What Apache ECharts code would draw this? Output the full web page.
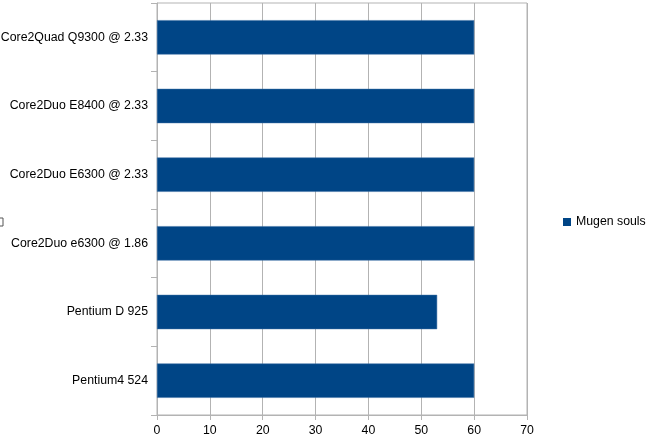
<!DOCTYPE html>
<html>
<head>
<meta charset="utf-8">
<script src="https://cdn.jsdelivr.net/npm/echarts@6/dist/echarts.min.js"></script>
<style>html,body{margin:0;padding:0;background:#fff}#c{width:648px;height:444px}</style>
</head>
<body>
<div id="c"></div>
<script>
const categories = ["Core2Quad Q9300 @ 2.33","Core2Duo E8400 @ 2.33","Core2Duo E6300 @ 2.33","Core2Duo e6300 @ 1.86","Pentium D 925","Pentium4 524"];
const seriesName = "Mugen souls";
const values = [60,60,60,60,53,60];
const xTicks = {min:0, max:70, interval:10};

const FS = 12.3;
const chart = echarts.init(document.getElementById('c'), null, {renderer:'canvas'});
chart.setOption({
  animation:false,
  textStyle:{fontFamily:'Liberation Sans, Arial, sans-serif'},
  grid:{left:157,right:121,top:3,bottom:29,show:true,borderColor:'#b3b3b3',borderWidth:1,containLabel:false,outerBoundsMode:'none'},
  legend:{
    show:true,left:563,top:216,padding:0,orient:'vertical',icon:'rect',itemWidth:8,itemHeight:8,itemGap:4,
    itemStyle:{borderWidth:0},
    textStyle:{fontSize:FS,color:'#000',fontFamily:'Liberation Sans, Arial, sans-serif',overflow:'none'},
    data:[seriesName]
  },
  xAxis:{
    type:'value',min:xTicks.min,max:xTicks.max,interval:xTicks.interval,
    axisLine:{show:true,lineStyle:{color:'#b3b3b3'}},
    axisTick:{show:true,length:5,lineStyle:{color:'#b3b3b3'}},
    splitLine:{show:true,lineStyle:{color:'#b3b3b3'}},
    axisLabel:{fontSize:FS,color:'#000',margin:10}
  },
  yAxis:{
    type:'category',data:categories,inverse:true,
    axisLine:{show:true,onZero:false,lineStyle:{color:'#b3b3b3'}},
    axisTick:{show:true,length:6,alignWithLabel:false,lineStyle:{color:'#b3b3b3'}},
    splitLine:{show:false},
    axisLabel:{fontSize:FS,color:'#000',margin:9}
  },
  series:[{
    name:seriesName,type:'bar',data:values,barWidth:'50%',
    itemStyle:{color:'#004586',borderColor:'#3a6ea5',borderWidth:0.5}
  }],
  graphic:[{type:'rect',shape:{x:-4,y:218,width:7,height:8},style:{fill:'#fff',stroke:'#555',lineWidth:1}}]
});
</script>
</body>
</html>
